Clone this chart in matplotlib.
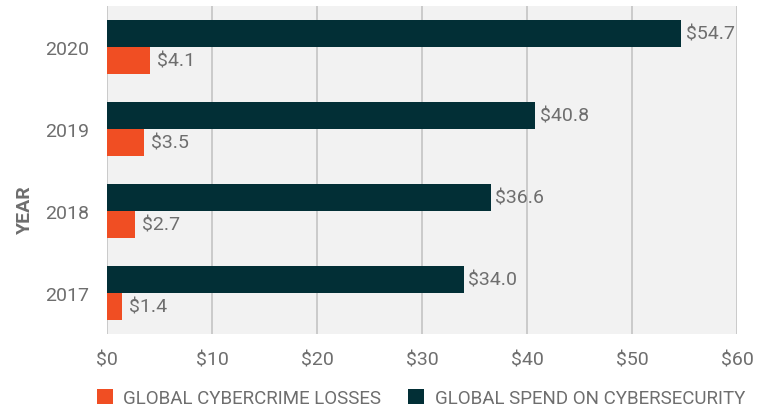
import matplotlib
matplotlib.use('Agg')
import matplotlib.pyplot as plt
import numpy as np

years = ['2017', '2018', '2019', '2020']
losses = [1.4, 2.7, 3.5, 4.1]
spend = [34.0, 36.6, 40.8, 54.7]
xticks = [0, 10, 20, 30, 40, 50, 60]

ORANGE = '#f04e23'
DARK = '#022f36'
GRAY = '#6e6e6e'

plt.rcParams['font.family'] = ['Roboto', 'DejaVu Sans']

fig = plt.figure(figsize=(7.62, 4.10), dpi=100)
ax = fig.add_axes([107 / 762, 75 / 410, 630 / 762, 328 / 410])
ax.set_facecolor('#f2f2f2')

y = np.arange(len(years))
h = 0.33
ax.barh(y + h / 2, spend, height=h, color=DARK, zorder=3,
        label='GLOBAL SPEND ON CYBERSECURITY')
ax.barh(y - h / 2, losses, height=h, color=ORANGE, zorder=3,
        label='GLOBAL CYBERCRIME LOSSES')

# value labels next to the bars
for i in range(len(years)):
    ax.annotate('$%.1f' % spend[i], (spend[i], y[i] + h / 2),
                xytext=(3, 0), textcoords='offset points',
                va='center', ha='left', fontsize=14, color=GRAY)
    ax.annotate('$%.1f' % losses[i], (losses[i], y[i] - h / 2),
                xytext=(5, 0), textcoords='offset points',
                va='center', ha='left', fontsize=14, color=GRAY)

ax.set_xlim(0, 60)
ax.set_ylim(-0.5, 3.5)
ax.set_xticks(xticks)
ax.set_xticklabels(['$%d' % v for v in xticks], fontsize=14, color=GRAY)
ax.set_yticks(y)
ax.set_yticklabels(years, fontsize=14, color=GRAY)
ax.tick_params(axis='x', length=0, pad=12)
ax.tick_params(axis='y', length=0, pad=13)

ax.grid(axis='x', color='#c4c4c4', linewidth=1.2, zorder=0)
for s in ax.spines.values():
    s.set_visible(False)

ax.set_ylabel('YEAR', fontsize=14, fontweight='bold', color=GRAY)
ax.yaxis.set_label_coords((34 - 107) / 630, (335 - 210) / 328)

handles, labels = ax.get_legend_handles_labels()
fig.legend(handles[::-1], labels[::-1], loc='center left',
           bbox_to_anchor=(97 / 762, 11 / 410), ncol=2, frameon=False,
           fontsize=13.5, labelcolor=GRAY, handlelength=0.85,
           handleheight=0.85, handletextpad=0.55, columnspacing=1.45,
           borderpad=0, borderaxespad=0)

fig.savefig('out.png', dpi=100)
